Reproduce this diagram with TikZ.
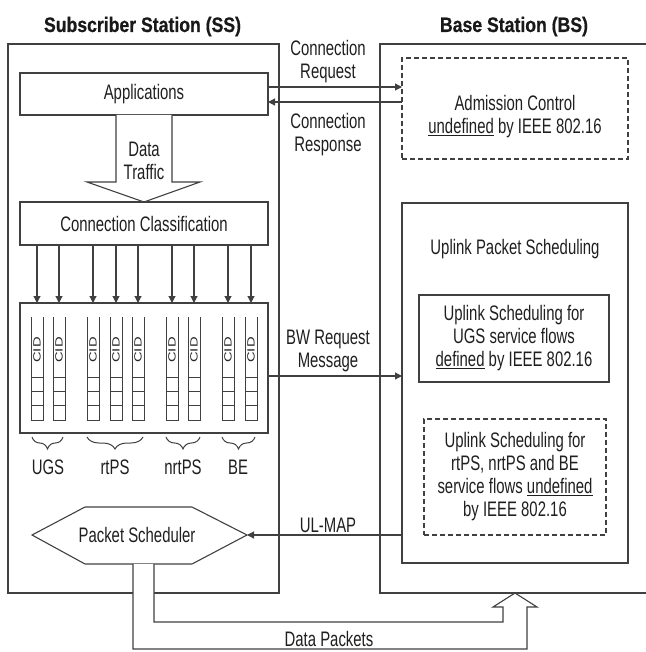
\documentclass[tikz,border=0pt]{standalone}
\usepackage{fontspec}
\setmainfont{Liberation Sans}[FakeStretch=0.71]
\newfontfamily\titlefont{Liberation Sans}[FakeStretch=0.84,FakeBold=0.6]
\newfontfamily\cidfont{Liberation Sans}
\usetikzlibrary{arrows.meta,decorations.pathreplacing}
\begin{document}
\begin{tikzpicture}[x=1pt,y=-1pt,line width=1.1pt,
  lc/.style={draw=black!75},
  box/.style={draw=black!75,inner sep=0pt,outer sep=0pt,anchor=north west,align=center},
  dbox/.style={box,dash pattern=on 5pt off 3pt},
  txt/.style={text=black!88,font=\fontsize{21}{23}\selectfont,align=center,inner sep=0pt},
  ttl/.style={text=black!90,font=\titlefont\bfseries\fontsize{21}{24}\selectfont,inner sep=0pt},
  cid/.style={text=black!85,rotate=90,font=\cidfont\fontsize{10.5}{10.5}\selectfont,inner sep=0pt},
  arr/.style={draw=black!75,-{Triangle[length=7pt,width=7pt]}},
  brc/.style={draw=black!75,line width=1pt,decorate,decoration={brace,mirror,amplitude=12pt}}
]
\useasboundingbox (0,0) rectangle (645,652);

% titles
\node[ttl,anchor=base] (tss) at (142.5,32) {Subscriber Station (SS)};
\node[ttl,anchor=base] (tbs) at (514,32) {Base Station (BS)};

% station frames
\node[box,minimum width=271pt,minimum height=549pt] (ss) at (8,44) {};
\coordinate (bstr) at (646,44);
\coordinate (bsbr) at (646,593);
\draw[lc] (bstr) -- (380,44) -- (380,593) -- (bsbr);

% applications
\node[box,txt,minimum width=248pt,minimum height=42pt] (app) at (20,73) {Applications};

% data traffic hollow arrow
\filldraw[lc,fill=white] (116,115) -- (116,182) -- (87,182) -- (144,202) -- (200,182) -- (172,182) -- (172,115);
\node[txt] (dt) at (144,161) {Data\\Traffic};

% classification
\node[box,txt,minimum width=248pt,minimum height=43pt] (cls) at (20,202) {Connection Classification};

% queue box
\node[box,minimum width=248pt,minimum height=130pt] (qb) at (20,303) {};
\foreach \i/\x in {1/37,2/59,3/93,4/116,5/138,6/172,7/194,8/228,9/251} {
  \coordinate (q\i) at (\x,317);
  \draw[lc,line width=1pt] (\x-6,317) -- (\x-6,420) -- (\x+6,420) -- (\x+6,317);
  \foreach \yy in {377,391,405} \draw[lc,line width=1pt] (\x-6,\yy) -- (\x+6,\yy);
  \node[cid] (cid\i) at (\x,350) {\scalebox{1.4}[1]{CID}};
  \draw[arr] (cls.south -| q\i) -- (qb.north -| q\i);
}

% braces and class labels
\draw[brc] (32,437) -- (63,437);
\draw[brc] (87,437) -- (143,437);
\draw[brc] (166,437) -- (200,437);
\draw[brc] (222,437) -- (255,437);
\node[txt,anchor=base] (lugs) at (48,474) {UGS};
\node[txt,anchor=base] (lrt) at (115,474) {rtPS};
\node[txt,anchor=base] (lnrt) at (183,474) {nrtPS};
\node[txt,anchor=base] (lbe) at (238,474) {BE};

% packet scheduler
\draw[lc] (32,535) -- (85,507) -- (192,507) -- (247,535) -- (192,564) -- (85,564) -- cycle;
\coordinate (pse) at (247,535);
\coordinate (psb1) at (133,564);
\coordinate (psb2) at (154,564);
\node[txt,anchor=base] (ps) at (137,542) {Packet Scheduler};

% data packets hollow arrow
\filldraw[lc,fill=white] (psb2) -- (154,622) -- (503,622) -- (503,607) -- (493,607) -- (515,593) -- (537,607) -- (527,607) -- (527,649) -- (133,649) -- (psb1);
\node[txt,anchor=base] (dp) at (329,646) {Data Packets};

% admission control
\node[dbox,minimum width=226pt,minimum height=101pt] (adm) at (402,58) {};
\node[txt] (admt) at (515,117) {Admission Control\\\underline{undefined} by IEEE 802.16};

% connection request / response
\draw[arr] ([yshift=7pt]app.east) -- ([yshift=7pt]app.east -| adm.west);
\draw[arr] ([yshift=-8pt]app.east -| adm.west) -- ([yshift=-8pt]app.east);
\node[txt] (creq) at (328,62) {Connection\\Request};
\node[txt] (cresp) at (328,134.5) {Connection\\Response};

% uplink packet scheduling
\node[box,minimum width=226pt,minimum height=360pt] (upl) at (402,203) {};
\node[txt,anchor=base] (uplt) at (515,254) {Uplink Packet Scheduling};
\node[box,txt,minimum width=190pt,minimum height=87pt] (ugs) at (419,295) {Uplink Scheduling for\\UGS service flows\\\underline{defined} by IEEE 802.16};
\node[dbox,txt,minimum width=182pt,minimum height=116pt] (oth) at (424,419) {Uplink Scheduling for\\rtPS, nrtPS and BE\\service flows \underline{undefined}\\by IEEE 802.16};

% BW request
\draw[arr] ([yshift=-8pt]qb.east) -- ([yshift=-8pt]qb.east -| upl.west);
\node[txt] (bw) at (328,351) {BW Request\\Message};

% UL-MAP
\draw[arr] (pse -| upl.west) -- (pse);
\node[txt,anchor=base] (ulm) at (328,532) {UL-MAP};
\end{tikzpicture}
\end{document}
